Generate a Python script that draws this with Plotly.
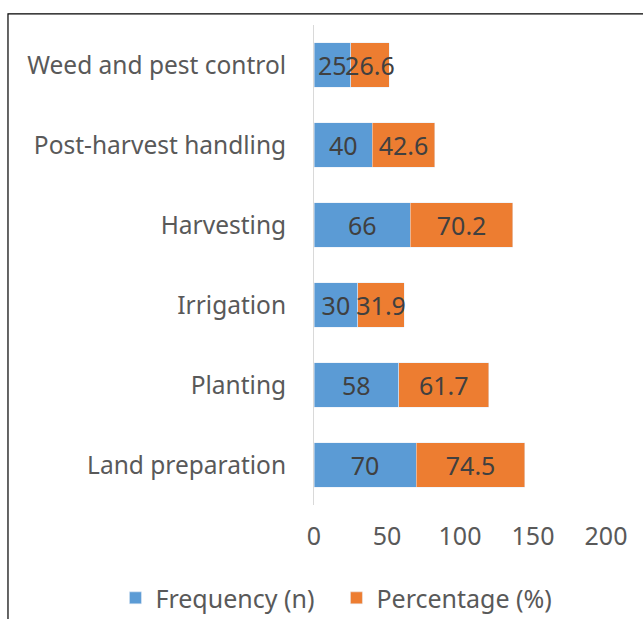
import plotly.graph_objects as go

# Farm activities, listed bottom to top as drawn on the category axis
activities = ["Land preparation", "Planting", "Irrigation", "Harvesting",
              "Post-harvest handling", "Weed and pest control"]
frequency = [70, 58, 30, 66, 40, 25]
percentage = [74.5, 61.7, 31.9, 70.2, 42.6, 26.6]
x_ticks = [0, 50, 100, 150, 200]

FONT = "Noto Sans"
GRAY = "#595959"
LABEL = "#404040"
SIZE = 25

fig = go.Figure()
fig.add_trace(go.Bar(
    y=activities, x=frequency, orientation="h", name="Frequency (n)",
    marker=dict(color="#5B9BD5"),
    text=[str(v) for v in frequency], textposition="inside",
    insidetextanchor="middle", textangle=0, constraintext="none",
    textfont=dict(family=FONT, size=SIZE, color=LABEL),
))
fig.add_trace(go.Bar(
    y=activities, x=percentage, orientation="h", name="Percentage (%)",
    marker=dict(color="#ED7D31"),
    text=[f"{v:g}" for v in percentage], textposition="inside",
    insidetextanchor="middle", textangle=0, constraintext="none",
    textfont=dict(family=FONT, size=SIZE, color=LABEL),
))

fig.update_layout(
    barmode="stack",
    bargap=0.44,
    width=643, height=619,
    margin=dict(l=314, r=37, t=25, b=114, autoexpand=False),
    paper_bgcolor="white", plot_bgcolor="white",
    font=dict(family=FONT, size=SIZE, color=GRAY),
    uniformtext=dict(minsize=SIZE, mode="show"),
    xaxis=dict(range=[0, 200], tickvals=x_ticks, showgrid=False,
               zeroline=False, showline=False, ticks="",
               ticklabelstandoff=14,
               tickfont=dict(size=SIZE, color=GRAY)),
    yaxis=dict(showline=True, linecolor="#d9d9d9", linewidth=1,
               ticks="", ticklabelstandoff=22, showgrid=False,
               tickfont=dict(size=24.5, color=GRAY)),
    legend=dict(orientation="h", x=-0.68, xanchor="left",
                y=-0.194, yanchor="middle",
                font=dict(size=SIZE, color=GRAY),
                traceorder="normal", entrywidth=176, entrywidthmode="pixels"),
    shapes=[dict(type="rect", xref="paper", yref="paper",
                 x0=-1.048, x1=2.0, y0=-1.0, y1=1.023,
                 line=dict(color="black", width=1.2),
                 fillcolor="rgba(0,0,0,0)", layer="below")],
)

fig.write_html("out.html")
